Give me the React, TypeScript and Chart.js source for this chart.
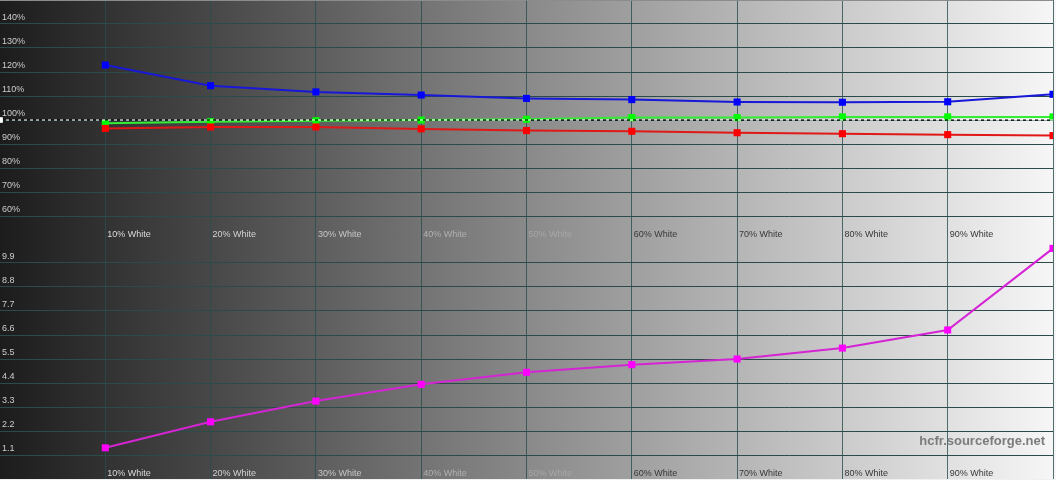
import React, { useEffect, useRef } from 'react';
import { Chart, registerables } from 'chart.js';

Chart.register(...registerables);

// ---------- data ----------
const levels = [10, 20, 30, 40, 50, 60, 70, 80, 90, 100];
const xTickLabels = ['10% White', '20% White', '30% White', '40% White', '50% White', '60% White', '70% White', '80% White', '90% White'];
const redLevels = [96.5, 97.1, 97.1, 96.3, 95.6, 95.3, 94.7, 94.3, 93.9, 93.5];
const greenLevels = [98.6, 99.3, 99.7, 100.0, 100.3, 101.0, 101.0, 101.3, 101.3, 101.3];
const blueLevels = [122.9, 114.3, 111.7, 110.4, 109.0, 108.5, 107.5, 107.4, 107.6, 110.7];
const deltaE = [1.43, 2.62, 3.57, 4.34, 4.89, 5.24, 5.5, 6.0, 6.83, 10.57];
const referenceLine = [100, 100];
const referenceX = [0, 100];
const topTickValues = [60, 70, 80, 90, 100, 110, 120, 130, 140];
const bottomTickValues = [1.1, 2.2, 3.3, 4.4, 5.5, 6.6, 7.7, 8.8, 9.9];
const watermark = 'hcfr.sourceforge.net';

// ---------- styles ----------
const FONT = "'Liberation Sans', Arial, sans-serif";
const GRID_H = '#2b4b4b';
const GRID_V = 'rgba(40,78,78,0.8)';
const xLabelColor = (v: number) => {
  if (v <= 10) return '#dadada';
  if (v <= 20) return '#d2d2d2';
  if (v <= 30) return '#c8c8c8';
  if (v <= 40) return '#b0b0b0';
  if (v <= 50) return '#a6a6a6';
  return '#383838';
};

const zeroPad = (axis: any) => {
  axis.paddingLeft = 0;
  axis.paddingRight = 0;
  axis.paddingTop = 0;
  axis.paddingBottom = 0;
};

const bgPlugin = {
  id: 'bgGradient',
  beforeDraw(chart: any) {
    const { ctx, width, height } = chart;
    const g = ctx.createLinearGradient(0, 0, width, 0);
    g.addColorStop(0, '#1c1c1c');
    g.addColorStop(1, '#f7f7f7');
    ctx.save();
    ctx.fillStyle = g;
    ctx.fillRect(0, 0, width, height);
    ctx.restore();
  },
};

const watermarkPlugin = {
  id: 'watermark',
  afterDraw(chart: any) {
    const { ctx, chartArea } = chart;
    ctx.save();
    ctx.font = `bold 13px ${FONT}`;
    ctx.fillStyle = '#7c7c7c';
    ctx.textAlign = 'right';
    ctx.textBaseline = 'middle';
    ctx.fillText(watermark, chartArea.right - 8, chartArea.top + 202);
    ctx.restore();
  },
};

function xScale() {
  return {
    type: 'linear',
    min: 0,
    max: 100,
    position: 'bottom',
    afterBuildTicks: (axis: any) => {
      axis.ticks = levels.map((v) => ({ value: v }));
    },
    afterFit: (axis: any) => {
      axis.height = 0;
      zeroPad(axis);
    },
    grid: { color: GRID_V, lineWidth: 1, drawTicks: false },
    border: { display: false },
    ticks: {
      mirror: true,
      align: 'start',
      padding: 0,
      labelOffset: 2,
      autoSkip: false,
      maxRotation: 0,
      font: { family: FONT, size: 9 },
      color: (ctx: any) => xLabelColor(ctx.tick ? ctx.tick.value : 0),
      callback: (_v: any, i: number) => (i < xTickLabels.length ? xTickLabels[i] : ''),
    },
  };
}

function yScale(min: number, max: number, values: number[], fmt: (v: number) => string, topValue: number, topColor: string) {
  return {
    type: 'linear',
    min,
    max,
    position: 'left',
    afterBuildTicks: (axis: any) => {
      axis.ticks = [...values.map((v) => ({ value: v })), { value: topValue }];
    },
    afterFit: (axis: any) => {
      axis.width = 0;
      zeroPad(axis);
    },
    grid: {
      drawTicks: false,
      lineWidth: 1,
      color: (ctx: any) => (ctx.tick && ctx.tick.value === topValue ? topColor : GRID_H),
    },
    border: { display: false },
    ticks: {
      mirror: true,
      padding: 2,
      labelOffset: -6,
      autoSkip: false,
      font: { family: FONT, size: 9 },
      color: '#cccccc',
      callback: (v: number) => (values.some((t) => Math.abs(t - v) < 1e-6) ? fmt(v) : ''),
    },
  };
}

function series(label: string, data: number[], line: string, point: string) {
  return {
    label,
    data: levels.map((x, i) => ({ x, y: data[i] })),
    borderColor: line,
    backgroundColor: point,
    borderWidth: 2,
    tension: 0,
    pointStyle: 'rect',
    pointRadius: 5,
    pointBorderWidth: 0,
    pointBackgroundColor: point,
  };
}

function topConfig(): any {
  const ref = referenceX.map((x, i) => ({ x, y: referenceLine[i] }));
  return {
    type: 'line',
    data: {
      datasets: [
        {
          label: 'ref-white',
          data: ref,
          borderColor: '#ffffff',
          borderWidth: 1,
          borderDash: [3, 3],
          pointStyle: 'rect',
          pointRadius: [4, 0],
          pointBorderWidth: 0,
          pointBackgroundColor: '#ffffff',
        },
        {
          label: 'ref-black',
          data: ref,
          borderColor: '#000000',
          borderWidth: 1,
          borderDash: [3, 3],
          borderDashOffset: 3,
          pointRadius: 0,
        },
        series('Red', redLevels, '#e01818', '#ff0000'),
        series('Green', greenLevels, '#33ee33', '#00ff00'),
        series('Blue', blueLevels, '#1818d8', '#0000ff'),
      ],
    },
    options: {
      animation: false,
      responsive: false,
      devicePixelRatio: 1,
      layout: { autoPadding: false, padding: { left: 0, right: 3, top: 0, bottom: 0 } },
      plugins: { legend: { display: false }, tooltip: { enabled: false } },
      scales: {
        x: xScale(),
        y: yScale(50, 150, topTickValues, (v) => `${Math.round(v)}%`, 150, '#8c8c8c'),
      },
    },
    plugins: [bgPlugin],
  };
}

function bottomConfig(): any {
  return {
    type: 'line',
    data: {
      datasets: [series('DeltaE', deltaE, '#d424d4', '#ff00ff')],
    },
    options: {
      animation: false,
      responsive: false,
      devicePixelRatio: 1,
      layout: { autoPadding: false, padding: { left: 0, right: 3, top: 0, bottom: 0 } },
      plugins: { legend: { display: false }, tooltip: { enabled: false } },
      scales: {
        x: xScale(),
        y: yScale(0, 11, bottomTickValues, (v) => v.toFixed(1), 11, 'rgba(0,0,0,0)'),
      },
    },
    plugins: [bgPlugin, watermarkPlugin],
  };
}

function Panel({ top, height, make }: { top: number; height: number; make: () => any }) {
  const ref = useRef<HTMLCanvasElement | null>(null);
  useEffect(() => {
    if (!ref.current) return;
    const chart = new Chart(ref.current, make());
    return () => chart.destroy();
  }, [make]);
  return (
    <canvas
      ref={ref}
      width={1056}
      height={height}
      style={{ position: 'absolute', left: 0, top, width: 1056, height, display: 'block' }}
    />
  );
}

export default function App() {
  return (
    <div style={{ position: 'absolute', left: 0, top: 0, width: 1056, height: 480, background: '#f0f0f0', overflow: 'hidden' }}>
      <Panel top={0} height={240} make={topConfig} />
      <Panel top={239} height={240} make={bottomConfig} />
    </div>
  );
}
